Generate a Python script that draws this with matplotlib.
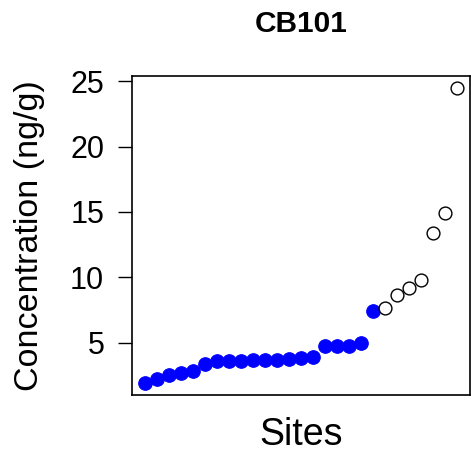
import matplotlib
matplotlib.use('Agg')
import matplotlib.pyplot as plt
import numpy as np

plt.rcParams['font.family'] = ['Liberation Sans', 'DejaVu Sans']

# sorted concentrations, low group (filled) and high group (open)
low_vals = [1.9, 2.25, 2.5, 2.65, 2.8, 3.4, 3.6, 3.6, 3.6, 3.65, 3.7, 3.7,
            3.75, 3.8, 3.9, 4.75, 4.75, 4.75, 5.0, 7.4]
high_vals = [7.65, 8.65, 9.2, 9.8, 13.4, 14.9, 24.5]
y_ticks = [5, 10, 15, 20, 25]

n_low = len(low_vals)
n_all = n_low + len(high_vals)
x_low = np.arange(1, n_low + 1)
x_high = np.arange(n_low + 1, n_all + 1)

fig = plt.figure(figsize=(4.71, 4.59), dpi=100)
ax = fig.add_axes([132/471, 64/459, 338/471, 319/459])

ax.scatter(x_low, low_vals, s=95, color='#0000ff', edgecolors='#0000ff', linewidths=0.8, zorder=3)
ax.scatter(x_high, high_vals, s=85, facecolors='white', edgecolors='black', linewidths=1.0, zorder=3)

allv = low_vals + high_vals
pad_y = (max(allv) - min(allv)) * 0.04
ax.set_ylim(min(allv) - pad_y, max(allv) + pad_y)
pad_x = (n_all - 1) * 0.04
ax.set_xlim(1 - pad_x, n_all + pad_x)

ax.set_yticks(y_ticks)
ax.set_xticks([])
ax.tick_params(axis='y', direction='out', length=10, width=1, labelsize=22, pad=10)
for sp in ax.spines.values():
    sp.set_linewidth(1.2)

ax.set_ylabel('Concentration (ng/g)', fontsize=24.5, labelpad=18)
ax.set_xlabel('Sites', fontsize=27, labelpad=16)
ax.set_title('CB101', fontsize=21.5, fontweight='bold', pad=32)

fig.savefig('out.png', dpi=100)
